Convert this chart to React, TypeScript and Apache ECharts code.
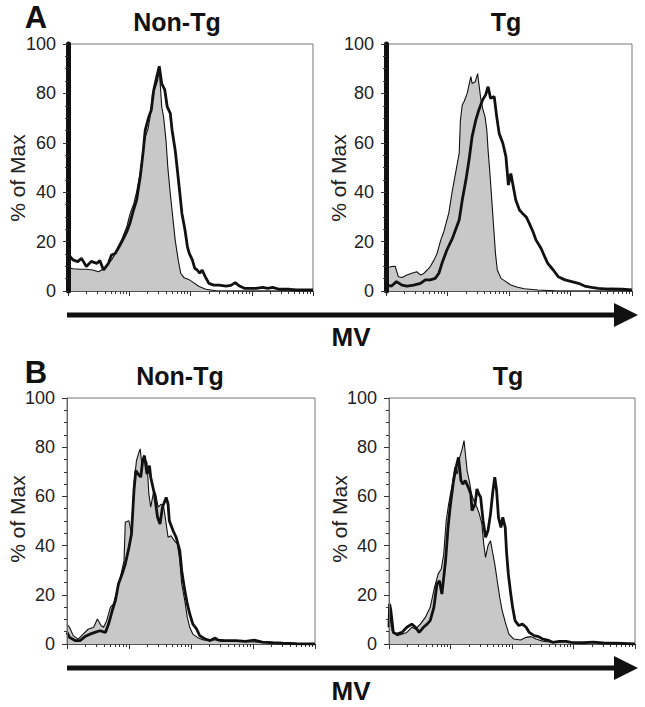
import React, { useEffect, useRef } from "react";
import * as echarts from "echarts";

// x values are in log decades (0..4), y values are % of Max
const aNonTgFill = [[0,9.5],[0.08,9],[0.2,8.8],[0.3,8.8],[0.4,8.5],[0.5,7.8],[0.58,9],[0.66,11.2],[0.71,12.5],[0.77,15],[0.82,18],[0.88,21],[0.96,26],[1.01,31],[1.07,35],[1.12,40],[1.18,48],[1.23,58],[1.27,63],[1.31,66],[1.35,72],[1.38,80],[1.42,82],[1.46,85],[1.49,90],[1.53,74.6],[1.56,70.6],[1.6,61],[1.63,50],[1.67,39.5],[1.71,30],[1.75,20.6],[1.8,12.5],[1.84,7.2],[1.89,5.5],[1.97,4.7],[2.05,3.4],[2.14,1.8],[2.25,0.7],[2.41,0.1],[2.6,0],[4,0]];
const aNonTgLine = [[0,15],[0.08,12.6],[0.16,11.9],[0.22,13.2],[0.3,9.9],[0.38,12],[0.47,11.2],[0.52,12.3],[0.58,8.5],[0.66,11.2],[0.71,14.6],[0.77,15.2],[0.82,17.3],[0.88,20],[0.96,24],[1.01,27.4],[1.07,32.8],[1.12,36.8],[1.18,46.3],[1.23,57],[1.26,65],[1.32,70.6],[1.36,73.3],[1.4,81.4],[1.45,86.8],[1.49,91],[1.53,84],[1.58,81.4],[1.62,74.6],[1.67,71.9],[1.7,65],[1.75,57],[1.78,50.3],[1.82,41],[1.86,31.4],[1.91,24.7],[1.95,17.9],[1.98,15.2],[2.03,12.6],[2.07,9.2],[2.11,8.5],[2.15,7.2],[2.19,8.5],[2.24,5.8],[2.3,3.1],[2.38,2.4],[2.47,2.4],[2.58,2],[2.66,2.3],[2.73,3.4],[2.8,2],[2.88,1.1],[2.96,1.1],[3.07,1.1],[3.18,1.5],[3.26,1.1],[3.34,1.5],[3.45,0.7],[3.62,0.7],[3.73,0.4],[4,0.4]];
const aTgFill = [[0.01,9.2],[0.09,9.9],[0.15,10],[0.2,5.8],[0.26,5.5],[0.34,6.5],[0.42,7.2],[0.5,7.8],[0.56,6.5],[0.61,7],[0.67,8.5],[0.72,9.9],[0.78,12.5],[0.83,15.2],[0.89,20.6],[0.94,24],[0.99,28.7],[1.02,31.4],[1.08,40.9],[1.13,47.6],[1.19,55.7],[1.21,69.2],[1.24,75.3],[1.27,76.7],[1.32,80],[1.38,86.8],[1.4,84],[1.45,84.7],[1.49,88],[1.51,84],[1.54,78],[1.57,74],[1.61,70.6],[1.64,65],[1.66,57],[1.69,47.6],[1.72,36.8],[1.75,26],[1.78,15.2],[1.81,8.5],[1.87,5.1],[1.95,3.8],[2.03,2.4],[2.14,1.5],[2.25,0.9],[2.47,0.4],[2.74,0.1],[4,0]];
const aTgLine = [[0.01,2.4],[0.09,2],[0.17,3.8],[0.26,2.4],[0.34,2],[0.45,2.4],[0.56,3.1],[0.64,4.5],[0.72,4.5],[0.8,5.1],[0.86,7.2],[0.91,11.2],[0.99,16.6],[1.08,21.3],[1.13,24.7],[1.19,28.7],[1.24,36.8],[1.3,45],[1.35,53],[1.4,62.5],[1.46,69.2],[1.51,73.3],[1.57,77.3],[1.62,79.4],[1.66,82.7],[1.7,78],[1.76,78.7],[1.8,70.6],[1.84,63.8],[1.9,59.8],[1.95,54.4],[1.99,42.9],[2.03,47.6],[2.07,42.2],[2.11,36.8],[2.17,32.8],[2.22,31.4],[2.28,30],[2.33,27.4],[2.39,24],[2.44,20.6],[2.52,17.3],[2.58,13.9],[2.63,11.2],[2.72,8.5],[2.8,5.8],[2.91,4.5],[3.02,3.8],[3.13,3.1],[3.23,2],[3.34,1.5],[3.45,1.1],[3.62,0.8],[3.84,0.7],[4,0.4]];
const bNonTgFill = [[0,8.1],[0.04,6.8],[0.1,3.4],[0.18,2],[0.26,4],[0.34,6],[0.43,6.8],[0.49,10.2],[0.55,7.5],[0.59,6.8],[0.64,9.5],[0.7,14.9],[0.75,16.3],[0.81,21.7],[0.86,27.1],[0.92,33.9],[0.94,49.5],[1,50.1],[1.04,44.7],[1.08,65],[1.12,74.5],[1.16,77.9],[1.18,79.3],[1.21,72.5],[1.24,75.9],[1.29,73.8],[1.32,61],[1.35,55.6],[1.4,62.3],[1.43,61],[1.47,55.6],[1.52,56.9],[1.56,55.6],[1.6,48.8],[1.63,43.4],[1.68,44],[1.73,42],[1.78,40.7],[1.82,33.9],[1.85,24.4],[1.9,17.6],[1.94,10.8],[1.98,6.8],[2.03,4],[2.12,2.4],[2.2,1.6],[2.28,1.6],[2.39,1.6],[2.5,1.1],[2.61,1.1],[2.77,1.1],[2.94,0.9],[3.15,0.7],[3.37,0.3],[3.7,0],[4,0]];
const bNonTgLine = [[0,4.7],[0.04,2.7],[0.13,1.4],[0.21,1.4],[0.29,3],[0.37,4],[0.45,4.7],[0.53,5.4],[0.62,4.7],[0.67,8.1],[0.73,13.6],[0.78,17.6],[0.83,24.4],[0.89,28.5],[0.94,32.5],[1,39.3],[1.04,44.7],[1.08,62.3],[1.11,70.5],[1.15,69],[1.19,67.8],[1.22,74.5],[1.25,76.6],[1.29,69.1],[1.33,72.5],[1.35,67.8],[1.41,61],[1.46,51.5],[1.5,48.8],[1.54,55.6],[1.6,59.6],[1.63,56.9],[1.65,50.1],[1.71,46.1],[1.76,43.4],[1.82,37.9],[1.85,29.8],[1.9,21.7],[1.94,16.3],[1.98,12.2],[2.03,8.1],[2.09,6.1],[2.14,3.4],[2.23,2],[2.31,1.4],[2.39,2.4],[2.44,1.6],[2.55,1.4],[2.72,1.4],[2.88,1.1],[3.02,1.6],[3.15,0.8],[3.32,0.5],[3.48,0.3],[3.7,0.1],[4,0]];
const bTgFill = [[0,6.8],[0.02,13.6],[0.05,5.4],[0.13,3.4],[0.21,4],[0.29,4.7],[0.37,6.8],[0.43,6.1],[0.51,8.1],[0.59,10.8],[0.67,14.9],[0.74,23],[0.8,28.5],[0.85,30.5],[0.89,36.6],[0.93,50.1],[0.97,56.9],[1.03,65],[1.07,71.8],[1.11,69.1],[1.15,75.9],[1.19,79.3],[1.22,82.7],[1.24,77.9],[1.27,70.5],[1.31,65.7],[1.34,61],[1.38,58.3],[1.43,55.6],[1.47,52.8],[1.51,48.8],[1.54,40.7],[1.57,35.2],[1.61,40],[1.65,42],[1.68,37.9],[1.72,32.5],[1.76,25.7],[1.8,19],[1.84,13.6],[1.9,8.1],[1.95,4],[2.03,2],[2.14,1.6],[2.23,2.7],[2.31,3],[2.39,2],[2.5,1.1],[2.61,0.8],[2.77,0.8],[2.88,1.1],[2.99,0.5],[3.26,0.7],[3.48,0.3],[4,0]];
const bTgLine = [[0,6.8],[0.01,16.3],[0.03,13.6],[0.07,4.7],[0.13,4],[0.21,4.7],[0.29,6.8],[0.37,8.1],[0.43,6.8],[0.49,4.7],[0.56,6.8],[0.62,8.1],[0.67,9.5],[0.73,14.9],[0.78,24.4],[0.82,25.7],[0.86,20.3],[0.92,33.9],[0.96,47.4],[1,56.9],[1.05,66.4],[1.09,71.8],[1.13,75.9],[1.17,66.4],[1.2,65],[1.24,66.4],[1.29,63.7],[1.33,61],[1.35,54.2],[1.4,56.9],[1.43,63],[1.46,61],[1.49,59.6],[1.53,50.1],[1.57,43.4],[1.61,46.1],[1.65,52.8],[1.69,62.3],[1.72,67.8],[1.75,62.3],[1.78,51.5],[1.82,47.4],[1.85,51.5],[1.89,47.4],[1.91,37.9],[1.94,28.5],[1.98,20.3],[2.01,14.9],[2.05,9.5],[2.11,7.5],[2.17,8.1],[2.23,6.8],[2.28,4.7],[2.36,3.4],[2.43,3],[2.5,2],[2.58,1.6],[2.66,0.7],[2.77,1.1],[2.88,1.1],[2.96,0.7],[3.15,0.5],[3.32,0.8],[3.48,0.4],[3.7,0.3],[4,0]];

const panelTitles = ["Non-Tg", "Tg", "Non-Tg", "Tg"];
const panelLetters = ["A", "B"];
const yAxisTitle = "% of Max";
const xAxisTitle = "MV";
const yTicks = [0, 20, 40, 60, 80, 100];
const decades = [0, 1, 2, 3, 4];
const minorMultipliers = [2, 3, 4, 5, 6, 7, 8, 9];

const FONT = "Arial, 'Liberation Sans', Helvetica, sans-serif";

export default function App() {
  const ref = useRef<HTMLDivElement>(null);
  useEffect(() => {
    document.body.style.margin = "0";
    if (!ref.current) return;
    const chart = echarts.init(ref.current, null, { renderer: "svg" });

    const minorVals: number[] = [];
    decades.slice(0, 4).forEach((d) =>
      minorMultipliers.forEach((m) => minorVals.push(d + Math.log10(m)))
    );

    const grids = [
      { left: 68, top: 44, width: 245, height: 247 },
      { left: 386, top: 44, width: 246, height: 247 },
      { left: 67, top: 398, width: 248, height: 246 },
      { left: 389, top: 398, width: 246, height: 246 },
    ];
    const fills = [aNonTgFill, aTgFill, bNonTgFill, bTgFill];
    const lines = [aNonTgLine, aTgLine, bNonTgLine, bTgLine];

    const xAxis: any[] = [];
    const yAxis: any[] = [];
    const series: any[] = [];
    grids.forEach((g, i) => {
      xAxis.push({
        type: "value", gridIndex: i, min: 0, max: 4, position: "bottom",
        axisLine: { show: true, lineStyle: { color: "#555", width: 1 } },
        axisTick: { show: true, length: 5, customValues: decades, lineStyle: { color: "#333" } },
        axisLabel: { show: false }, splitLine: { show: false },
      });
      xAxis.push({
        type: "value", gridIndex: i, min: 0, max: 4, position: "bottom",
        axisLine: { show: false },
        axisTick: { show: true, length: 3, customValues: minorVals, lineStyle: { color: "#333" } },
        axisLabel: { show: false }, splitLine: { show: false },
      });
      const isA = i < 2;
      yAxis.push({
        type: "value", gridIndex: i, min: 0, max: 100, interval: 20, z: 5,
        axisLine: { show: true, lineStyle: isA ? { color: "#111", width: 5 } : { color: "#666", width: 1 } },
        axisTick: { show: true, length: 5, lineStyle: { color: "#333" } },
        minorTick: { show: true, splitNumber: 4, length: 3, lineStyle: { color: "#333" } },
        splitLine: { show: false },
        axisLabel: { fontSize: 18, color: "#222", margin: 12, fontFamily: FONT, customValues: yTicks },
      });
      series.push({
        type: "line", xAxisIndex: 2 * i, yAxisIndex: i, data: fills[i],
        symbol: "none", z: 2,
        lineStyle: { color: "#111", width: 1.1 },
        areaStyle: { color: "#c8c8c8", opacity: 1 },
      });
      series.push({
        type: "line", xAxisIndex: 2 * i, yAxisIndex: i, data: lines[i],
        symbol: "none", z: 3,
        lineStyle: { color: "#111", width: 2.8 },
      });
    });

    const titlePos = [[177, 22], [506, 22], [180, 376], [508, 376]];
    const yTitlePos = [[17, 178], [338, 178], [17, 519], [339, 519]];
    const graphic: any[] = [];
    panelTitles.forEach((t, i) => {
      graphic.push({
        type: "text", x: titlePos[i][0], y: titlePos[i][1],
        style: { text: t, font: `bold 25px ${FONT}`, fill: "#111", textAlign: "center", textVerticalAlign: "middle", lineHeight: 24 },
      });
      graphic.push({
        type: "text", x: yTitlePos[i][0], y: yTitlePos[i][1], rotation: Math.PI / 2,
        style: { text: yAxisTitle, font: `21px ${FONT}`, fill: "#222", textAlign: "center", textVerticalAlign: "middle", lineHeight: 20 },
      });
    });
    [[36, 17], [36, 372]].forEach(([x, y], i) => {
      graphic.push({
        type: "text", x, y,
        style: { text: panelLetters[i], font: `bold 31px ${FONT}`, fill: "#111", textAlign: "center", textVerticalAlign: "middle", lineHeight: 26 },
      });
    });
    [[315, 337], [668, 691]].forEach(([ly, my]) => {
      graphic.push({ type: "line", shape: { x1: 67, y1: ly, x2: 618, y2: ly }, style: { stroke: "#111", lineWidth: 5 } });
      graphic.push({ type: "polygon", shape: { points: [[614, ly - 12], [638, ly], [614, ly + 12]] }, style: { fill: "#111" } });
      graphic.push({
        type: "text", x: 351, y: my,
        style: { text: xAxisTitle, font: `bold 26px ${FONT}`, fill: "#111", textAlign: "center", textVerticalAlign: "middle", lineHeight: 24 },
      });
    });

    chart.setOption({
      animation: false,
      backgroundColor: "#fff",
      grid: grids.map((g) => ({ ...g, show: true, borderColor: "#777", borderWidth: 1, backgroundColor: "transparent" })),
      xAxis, yAxis, series, graphic,
    });
    return () => chart.dispose();
  }, []);
  return <div ref={ref} style={{ width: 645, height: 707 }} />;
}
